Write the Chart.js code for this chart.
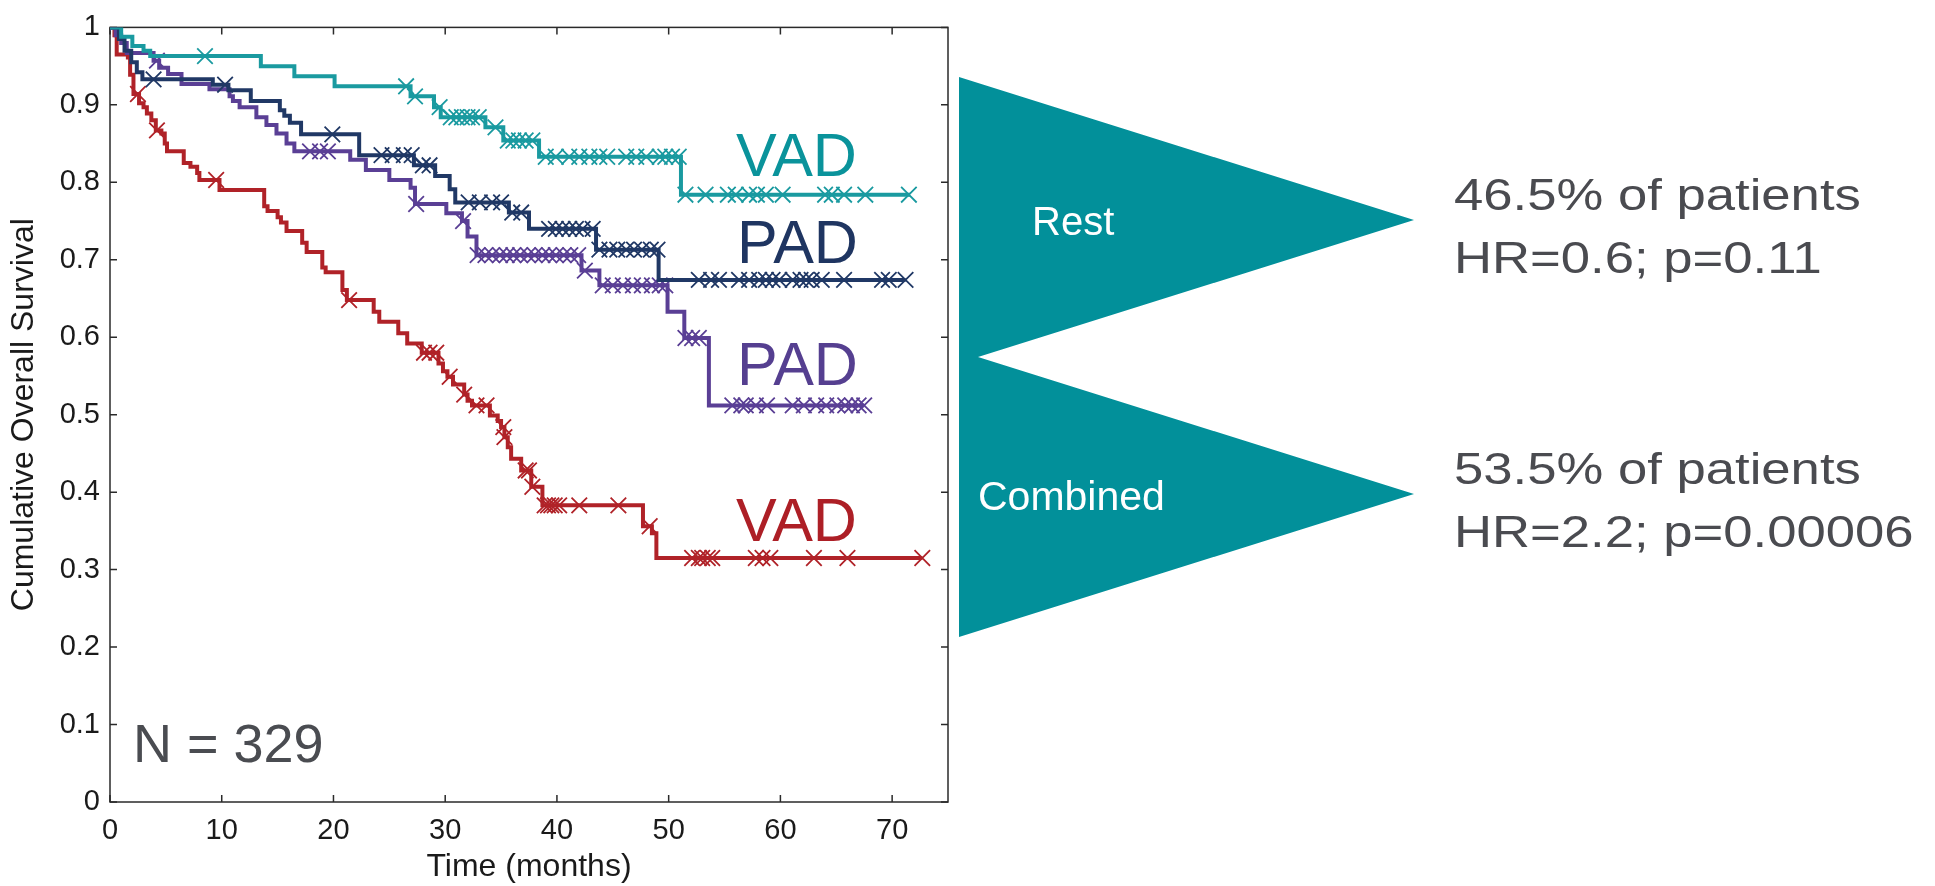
<!DOCTYPE html>
<html lang="en">
<head>
<meta charset="utf-8">
<title>Cumulative Overall Survival</title>
<script src="https://cdn.jsdelivr.net/npm/chart.js@4.4.1/dist/chart.umd.min.js"></script>
<style>
  body { margin: 0; background: #fff; }
  #wrap { position: relative; width: 1935px; height: 886px; overflow: hidden; font-family: 'Liberation Sans', Arial, sans-serif; }
  #survivalChart { position: absolute; left: 0; top: 0; }
  .note { position: absolute; line-height: 1; white-space: nowrap; }
  .curve-label { font-size: 61px; }
  .stats { font-size: 45px; color: #4a4b50; transform: scaleX(1.17); transform-origin: left top; }
  .arrow-text { font-size: 40px; color: #fff; }
  #arrows {
    position: absolute; left: 959px; top: 77px; width: 456px; height: 561px;
    background: #02909a;
    clip-path: polygon(0 0, 455px 143px, 19px 280px, 455px 417px, 0 560px);
  }
</style>
</head>
<body>
<div id="wrap">
  <canvas id="survivalChart" width="1935" height="886"></canvas>

  <div class="note curve-label" style="left:736px; top:125px; color:#0a939b;">VAD</div>
  <div class="note curve-label" style="left:737px; top:212px; color:#1f3561;">PAD</div>
  <div class="note curve-label" style="left:737px; top:334px; color:#553f90;">PAD</div>
  <div class="note curve-label" style="left:736px; top:490px; color:#ad1f26;">VAD</div>
  <div class="note" style="left:133px; top:716px; font-size:54px; color:#4a4c51;">N = 329</div>

  <div id="arrows"></div>
  <div class="note arrow-text" style="left:1032px; top:201px;">Rest</div>
  <div class="note arrow-text" style="left:978px; top:476px; font-size:41px;">Combined</div>

  <div class="note stats" style="left:1454px; top:172px;">46.5% of patients</div>
  <div class="note stats" style="left:1454px; top:235px;">HR=0.6; p=0.11</div>
  <div class="note stats" style="left:1454px; top:446px;">53.5% of patients</div>
  <div class="note stats" style="left:1454px; top:509px;">HR=2.2; p=0.00006</div>
</div>

<script>
// Ejes
const xTicks = [0, 10, 20, 30, 40, 50, 60, 70];
const xMax = 75;

// VAD (rest) - teal
const vadRestTime = [0, 1.0, 2.0, 3.0, 3.6, 13.5, 16.5, 20.1, 26.9, 29.0, 29.6, 33.6, 35.2, 38.4, 51.1, 71.6];
const vadRestSurv = [1, 0.988, 0.976, 0.970, 0.963, 0.950, 0.937, 0.924, 0.911, 0.897, 0.884, 0.871, 0.854, 0.833, 0.784, 0.784];
const vadRestCensor = [8.5, 26.5, 27.3, 29.5, 30.5, 31.0, 31.5, 32.0, 32.4, 33.0, 34.5, 35.6, 36.1, 36.6, 37.2, 37.8,
    39.0, 39.9, 41.1, 42.0, 42.9, 43.8, 44.5, 46.2, 47.1, 48.0, 49.2, 49.7, 50.3, 50.9,
    51.5, 53.3, 55.3, 56.0, 57.2, 57.9, 58.7, 60.2, 64.0, 64.6, 65.7, 67.6, 71.5];

// PAD (rest) - navy
const padRestTime = [0, 0.8, 1.3, 1.9, 2.4, 2.9, 9.2, 10.6, 12.6, 15.2, 15.6, 16.1, 17.1, 22.3, 27.2, 29.1, 30.4, 30.9, 35.7, 37.5, 43.5, 49.1, 71.2];
const padRestSurv = [1, 0.985, 0.970, 0.955, 0.942, 0.933, 0.926, 0.919, 0.905, 0.893, 0.886, 0.877, 0.862, 0.835, 0.822, 0.808, 0.791, 0.774, 0.761, 0.740, 0.713, 0.674, 0.674];
const padRestCensor = [3.9, 10.3, 19.9, 24.3, 25.3, 26.3, 27.0, 28.0, 28.6, 32.1, 33.1, 34.2, 35.0, 36.0, 36.8,
    39.3, 39.9, 40.5, 41.1, 41.7, 42.3, 43.2, 43.8, 44.7, 45.4, 46.2, 46.9, 47.6, 48.4, 49.0,
    52.7, 53.8, 54.5, 56.3, 57.2, 58.1, 58.7, 59.3, 59.9, 61.1, 61.8, 62.3, 62.8, 63.7, 65.7, 69.1, 69.7, 71.2];

// PAD (combined) - purple
const padCombTime = [0, 0.5, 1.0, 1.5, 3.9, 4.4, 5.2, 6.4, 8.9, 10.7, 11.0, 11.6, 13.1, 14.0, 14.9, 15.8, 16.5, 21.5, 22.9, 25.0, 26.9, 27.3, 30.1, 31.5, 32.0, 32.8, 42.2, 43.8, 49.9, 51.4, 53.6, 67.5];
const padCombSurv = [1, 0.990, 0.980, 0.967, 0.957, 0.948, 0.940, 0.927, 0.920, 0.911, 0.905, 0.897, 0.884, 0.874, 0.863, 0.850, 0.840, 0.829, 0.816, 0.803, 0.793, 0.772, 0.760, 0.750, 0.730, 0.706, 0.686, 0.667, 0.633, 0.599, 0.512, 0.512];
const padCombCensor = [0.2, 4.2, 17.9, 18.8, 19.5, 27.4, 31.6, 32.9, 33.6, 34.2, 34.9, 35.5, 36.1, 36.7, 37.4, 38.0,
    38.7, 39.3, 39.9, 40.6, 41.2, 41.9, 42.5, 44.1, 45.0, 45.9, 46.8, 47.6, 48.5, 49.2, 49.7, 51.5, 52.1, 52.7,
    55.7, 56.5, 56.9, 57.8, 58.8, 61.1, 62.1, 63.2, 64.1, 65.1, 65.8, 66.4, 67.0, 67.5];

// VAD (combined) - red
const vadCombTime = [0, 0.4, 0.6, 1.6, 1.8, 2.1, 2.6, 3.0, 3.3, 3.7, 4.1, 4.6, 4.9, 5.1, 6.6, 7.2, 7.8, 8.0, 9.8,
    13.8, 14.1, 15.0, 15.3, 15.8, 17.2, 17.6, 19.0, 19.3, 20.8, 21.2, 23.6, 24.1, 25.8, 26.6, 27.9, 29.4, 29.8, 30.2,
    30.7, 31.7, 32.0, 32.4, 34.0, 34.7, 35.0, 35.3, 35.6, 35.9, 36.8, 37.7, 38.7, 47.7, 48.5, 48.9, 72.7];
const vadCombSurv = [1, 0.990, 0.965, 0.961, 0.939, 0.914, 0.902, 0.897, 0.889, 0.880, 0.867, 0.863, 0.850, 0.840, 0.825, 0.820, 0.812, 0.803, 0.790,
    0.769, 0.763, 0.755, 0.748, 0.737, 0.722, 0.710, 0.690, 0.684, 0.661, 0.648, 0.633, 0.620, 0.605, 0.592, 0.580, 0.566, 0.556, 0.549,
    0.539, 0.526, 0.518, 0.512, 0.499, 0.492, 0.484, 0.471, 0.458, 0.443, 0.428, 0.407, 0.383, 0.356, 0.347, 0.315, 0.315];
const vadCombCensor = [2.5, 4.2, 9.5, 21.4, 28.1, 28.6, 29.2, 30.4, 31.7, 32.8, 33.7, 35.2, 35.3, 37.2, 37.5, 37.8,
    38.9, 39.2, 39.5, 39.8, 40.2, 42.0, 45.5, 48.3, 52.1, 52.7, 53.0, 53.5, 53.9, 57.8, 58.4, 59.1, 63.0, 66.0, 72.7];

const groups = [
    { time: vadRestTime, surv: vadRestSurv, censor: vadRestCensor, color: '#1a9aa0' },
    { time: padRestTime, surv: padRestSurv, censor: padRestCensor, color: '#203865' },
    { time: padCombTime, surv: padCombSurv, censor: padCombCensor, color: '#5a3f95' },
    { time: vadCombTime, surv: vadCombSurv, censor: vadCombCensor, color: '#b02228' }
];

// valor de la curva en el tiempo t (ultimo escalon alcanzado)
function survivalAt(times, surv, t) {
    let s = surv[0];
    for (let i = 0; i < times.length; i++) {
        if (times[i] <= t) s = surv[i];
    }
    return s;
}

const datasets = [];
groups.forEach(g => {
    datasets.push({
        data: g.time.map((t, i) => ({ x: t, y: g.surv[i] })),
        stepped: true,
        borderColor: g.color,
        borderWidth: 4,
        pointRadius: 0,
        fill: false
    });
    datasets.push({
        data: g.censor.map(t => ({ x: t, y: survivalAt(g.time, g.surv, t) })),
        showLine: false,
        pointStyle: 'crossRot',
        pointRadius: 11,
        pointBorderWidth: 1.8,
        borderColor: g.color,
        backgroundColor: g.color
    });
});

// marco cerrado con ticks hacia dentro en los cuatro lados
const boxPlugin = {
    id: 'boxTicks',
    beforeDatasetsDraw(chart) {
        const ctx = chart.ctx;
        const a = chart.chartArea;
        const xs = chart.scales.x;
        const ys = chart.scales.y;
        ctx.save();
        ctx.strokeStyle = '#2a2a2a';
        ctx.lineWidth = 1.5;
        ctx.strokeRect(a.left, a.top, a.right - a.left, a.bottom - a.top);
        ctx.beginPath();
        xs.ticks.forEach(t => {
            const px = xs.getPixelForValue(t.value);
            ctx.moveTo(px, a.bottom); ctx.lineTo(px, a.bottom - 7);
            ctx.moveTo(px, a.top); ctx.lineTo(px, a.top + 7);
        });
        ys.ticks.forEach(t => {
            const py = ys.getPixelForValue(t.value);
            ctx.moveTo(a.left, py); ctx.lineTo(a.left + 7, py);
            ctx.moveTo(a.right, py); ctx.lineTo(a.right - 7, py);
        });
        ctx.stroke();
        ctx.restore();
    }
};

const tickFont = { family: "'Liberation Sans', Arial", size: 29 };
const titleFont = { family: "'Liberation Sans', Arial", size: 32 };

const ctx = document.getElementById('survivalChart').getContext('2d');
new Chart(ctx, {
    type: 'line',
    data: { datasets: datasets },
    options: {
        responsive: false,
        animation: false,
        layout: { padding: { top: 19, right: 987, left: 0, bottom: 0 } },
        plugins: {
            legend: { display: false },
            tooltip: { enabled: false }
        },
        scales: {
            x: {
                type: 'linear',
                min: 0,
                max: xMax,
                afterBuildTicks: scale => {
                    scale.ticks = xTicks.map(v => ({ value: v }));
                },
                afterFit: scale => { scale.height = 84; },
                grid: { display: false, drawTicks: false, tickLength: 0 },
                border: { display: false },
                ticks: {
                    padding: 12,
                    color: '#1a1a1a',
                    font: tickFont
                },
                title: {
                    display: true,
                    text: 'Time (months)',
                    color: '#1a1a1a',
                    padding: { top: 0, bottom: 0 },
                    font: titleFont
                }
            },
            y: {
                min: 0,
                max: 1,
                afterFit: scale => { scale.width = 110; },
                grid: { display: false, drawTicks: false, tickLength: 0 },
                border: { display: false },
                ticks: {
                    stepSize: 0.1,
                    padding: 10,
                    color: '#1a1a1a',
                    font: tickFont,
                    callback: value => String(Number(value.toFixed(1)))
                },
                title: {
                    display: true,
                    text: 'Cumulative Overall Survival',
                    color: '#1a1a1a',
                    padding: { top: 5, bottom: 0 },
                    font: titleFont
                }
            }
        }
    },
    plugins: [boxPlugin]
});
</script>
</body>
</html>
